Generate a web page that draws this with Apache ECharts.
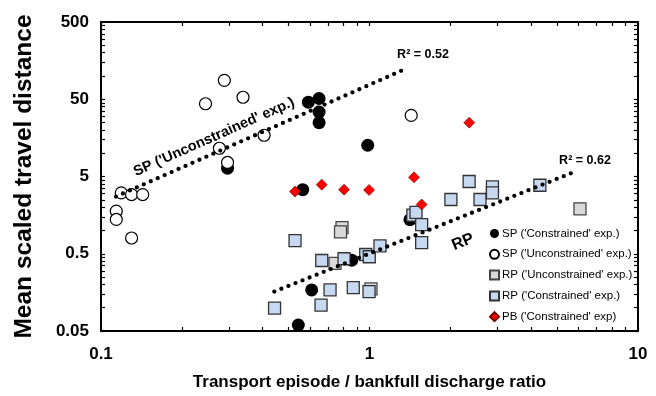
<!DOCTYPE html>
<html>
<head>
<meta charset="utf-8">
<script src="https://cdn.jsdelivr.net/npm/echarts@6/dist/echarts.min.js"></script>
<style>
  html, body { margin: 0; padding: 0; background: #fff; }
  #chart { width: 656px; height: 396px; }
</style>
</head>
<body>
<div id="chart"></div>
<script>
// ---- data: [episode / bankfull discharge ratio, mean scaled travel distance] ----
const xTickLabels = [0.1, 1, 10];
const yTickLabels = [0.05, 0.5, 5, 50, 500];

const spConstrained = [
  [0.592, 45.8], [0.649, 51.1], [0.649, 34.1], [0.649, 24.9], [0.985, 12.7],
  [0.296, 6.4], [0.564, 3.38], [1.415, 1.38], [0.859, 0.413], [0.609, 0.170],
  [0.543, 0.0597]
];
const spUnconstrained = [
  [0.288, 87.9], [0.245, 43.7], [0.338, 53.1], [0.405, 17.1], [0.276, 11.6],
  [0.296, 7.6], [0.119, 3.07], [0.130, 2.92], [0.143, 2.92], [0.114, 1.78],
  [0.114, 1.39], [0.130, 0.80], [1.43, 30.9]
];
const rpUnconstrained = [
  [6.08, 1.91], [0.79, 1.09], [0.78, 0.96], [0.744, 0.375], [1.013, 0.175]
];
const rpConstrained = [
  [0.528, 0.740], [0.664, 0.409], [0.804, 0.431], [0.968, 0.489], [0.998, 0.457],
  [1.094, 0.633], [1.45, 1.58], [1.49, 1.72], [1.564, 1.19], [1.564, 0.698],
  [0.713, 0.170], [0.870, 0.182], [0.996, 0.162], [0.660, 0.108], [0.443, 0.0988],
  [2.01, 2.52], [2.35, 4.31], [2.58, 2.52], [2.87, 3.66], [2.87, 3.07],
  [4.31, 3.85]
];
const pbConstrained = [
  [0.528, 3.19], [0.664, 3.92], [0.804, 3.38], [0.996, 3.35], [1.465, 4.88],
  [1.564, 2.17], [2.353, 24.9]
];
// power-law trend lines (end points)
const spTrend = [[0.1137, 2.75], [1.368, 124.4]];
const rpTrend = [[0.442, 0.162], [5.66, 5.55]];

const seriesNames = [
  "SP ('Constrained' exp.)",
  "SP ('Unconstrained' exp.)",
  "RP ('Unconstrained' exp.)",
  "RP ('Constrained' exp.)",
  "PB ('Constrained' exp)"
];

// ---- log-axis tick positions (decade majors + 2..9 minors) ----
function logTicks(majors) {
  const out = [];
  majors.forEach(function (m, i) {
    out.push(m);
    if (i < majors.length - 1) {
      for (let k = 2; k <= 9; k++) out.push(+(m * k).toPrecision(6));
    }
  });
  return out;
}
const xTicks = logTicks(xTickLabels);
const yTicks = logTicks(yTickLabels);

const FONT = "'Liberation Sans', Arial, sans-serif";
const fmt = function (v) { return String(+(+v).toPrecision(3)); };
const tickStyle = { color: '#000', width: 1.2 };

function axisBase(extra) {
  return Object.assign({
    type: 'log',
    logBase: 10,
    axisLine: { show: true, lineStyle: { color: '#000', width: 2 } },
    splitLine: { show: false },
    minorTick: { show: false },
    axisLabel: { show: false }
  }, extra);
}

const chart = echarts.init(document.getElementById('chart'), null, { renderer: 'canvas' });

const option = {
  backgroundColor: '#fff',
  animation: false,
  grid: { left: 101, right: 18, top: 22, bottom: 63 },
  xAxis: [
    axisBase({
      min: 0.1, max: 10, position: 'bottom',
      axisTick: { show: true, inside: true, length: 4, customValues: xTicks, lineStyle: tickStyle },
      axisLabel: {
        show: true, customValues: xTickLabels, formatter: fmt, margin: 15,
        fontFamily: FONT, fontWeight: 'bold', fontSize: 17, color: '#000'
      },
      name: 'Transport episode / bankfull discharge ratio',
      nameLocation: 'middle', nameGap: 43,
      nameTextStyle: { fontFamily: FONT, fontWeight: 'bold', fontSize: 17, color: '#000' }
    }),
    axisBase({
      min: 0.1, max: 10, position: 'top',
      axisTick: { show: true, inside: true, length: 4, customValues: xTicks, lineStyle: tickStyle }
    })
  ],
  yAxis: [
    axisBase({
      min: 0.05, max: 500, position: 'left',
      axisTick: { show: true, inside: true, length: 4, customValues: yTicks, lineStyle: tickStyle },
      axisLabel: {
        show: true, customValues: yTickLabels, formatter: fmt, margin: 12,
        fontFamily: FONT, fontWeight: 'bold', fontSize: 17, color: '#000'
      },
      name: 'Mean scaled travel distance',
      nameLocation: 'middle', nameGap: 64,
      nameTextStyle: { fontFamily: FONT, fontWeight: 'bold', fontSize: 24.5, color: '#000' }
    }),
    axisBase({
      min: 0.05, max: 500, position: 'right',
      axisTick: { show: true, inside: true, length: 4, customValues: yTicks, lineStyle: tickStyle }
    })
  ],
  legend: {
    data: seriesNames,
    orient: 'vertical',
    left: 489, top: 226.5,
    padding: 0,
    itemWidth: 9, itemHeight: 9, itemGap: 6.8,
    textStyle: { fontFamily: FONT, fontSize: 11.5, lineHeight: 14, color: '#000', padding: [0, 0, 0, -2] }
  },
  series: [
    {
      name: seriesNames[0], type: 'scatter', data: spConstrained,
      symbol: 'circle', symbolSize: 13,
      itemStyle: { color: '#000', opacity: 1 }, z: 2
    },
    {
      name: seriesNames[1], type: 'scatter', data: spUnconstrained,
      symbol: 'circle', symbolSize: 12,
      itemStyle: { color: '#fff', borderColor: '#000', borderWidth: 1.2, opacity: 1 }, z: 3
    },
    {
      name: seriesNames[2], type: 'scatter', data: rpUnconstrained,
      symbol: 'rect', symbolSize: 12,
      itemStyle: { color: '#d9d9d9', borderColor: '#444', borderWidth: 1.3, opacity: 1 }, z: 4
    },
    {
      name: seriesNames[3], type: 'scatter', data: rpConstrained,
      symbol: 'rect', symbolSize: 12,
      itemStyle: { color: '#c6d9f1', borderColor: '#333', borderWidth: 1.3, opacity: 1 }, z: 5
    },
    {
      name: seriesNames[4], type: 'scatter', data: pbConstrained,
      symbol: 'diamond', symbolSize: [11, 11],
      itemStyle: { color: '#ff0000', borderColor: '#700', borderWidth: 0.6, opacity: 1 }, z: 6
    },
    {
      name: 'SP trend', type: 'line', data: spTrend, symbol: 'none', silent: true, z: 7,
      lineStyle: { color: '#000', width: 4.3, type: [0, 7.6], cap: 'round' }
    },
    {
      name: 'RP trend', type: 'line', data: rpTrend, symbol: 'none', silent: true, z: 7,
      lineStyle: { color: '#000', width: 4.3, type: [0, 7.6], cap: 'round' }
    }
  ],
  graphic: [
    {
      type: 'text', x: 423, y: 55,
      style: { text: 'R\u00B2 = 0.52', fill: '#000', font: 'bold 12.5px ' + FONT, align: 'center', verticalAlign: 'middle' }
    },
    {
      type: 'text', x: 585, y: 161,
      style: { text: 'R\u00B2 = 0.62', fill: '#000', font: 'bold 12.5px ' + FONT, align: 'center', verticalAlign: 'middle' }
    },
    {
      type: 'text', x: 214, y: 137, rotation: 24 * Math.PI / 180,
      style: { text: "SP ('Unconstrained' exp.)", fill: '#000', font: 'bold 14.5px ' + FONT, align: 'center', verticalAlign: 'middle' }
    },
    {
      type: 'text', x: 463, y: 242, rotation: 22 * Math.PI / 180,
      style: { text: 'RP', fill: '#000', font: 'bold 16px ' + FONT, align: 'center', verticalAlign: 'middle' }
    }
  ]
};

chart.setOption(option);
</script>
</body>
</html>
